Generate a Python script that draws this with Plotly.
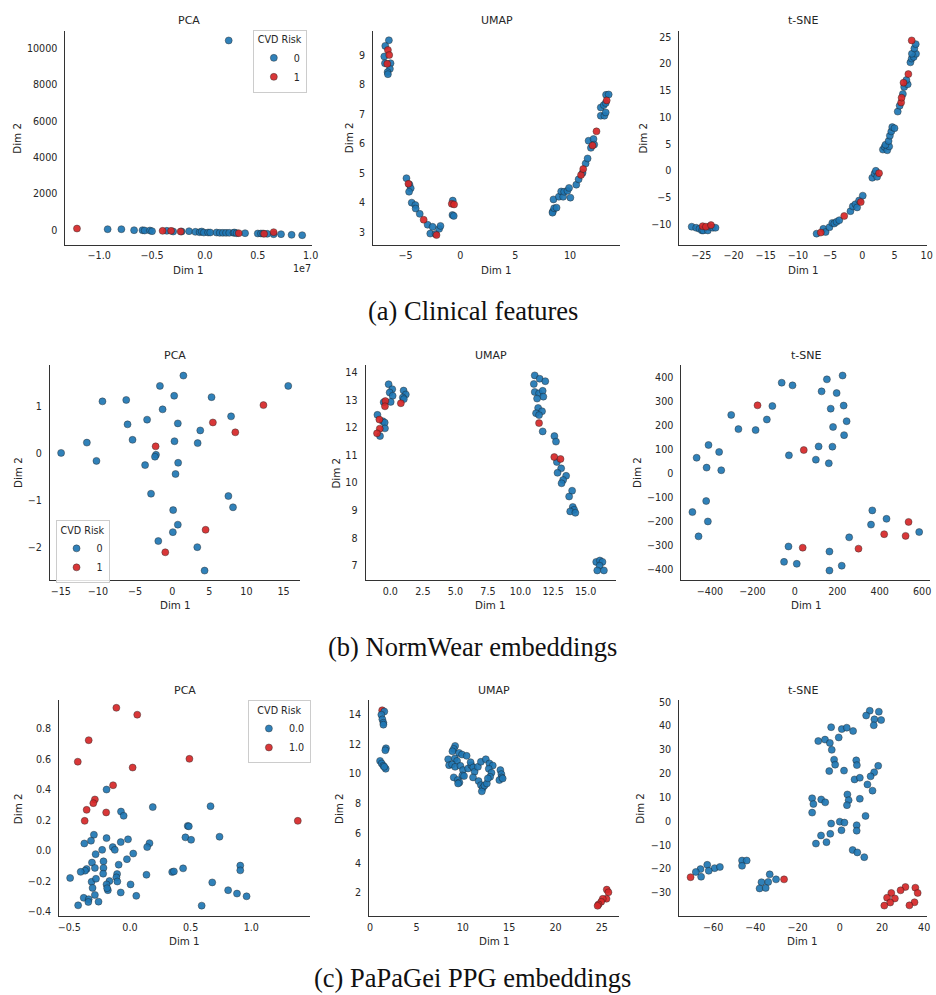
import plotly.graph_objects as go

W, H = 936, 995
BLUE = "#1f77b4"
RED = "#d62728"

# ---------------- (a) Clinical features ----------------
# PCA (Dim 1 in units of 1e7)
clin_pca_x0 = [-0.92, -0.79, -0.67, -0.59, -0.57, -0.52, -0.50, -0.36, -0.30, -0.22, -0.15, -0.09, -0.05, -0.03,
               -0.01, 0.03, 0.05, 0.11, 0.14, 0.17, 0.20, 0.23, 0.27, 0.28, 0.30, 0.38, 0.50, 0.53, 0.55, 0.59,
               0.65, 0.72, 0.82, 0.92, 0.225]
clin_pca_y0 = [55, 55, 0, 0, -18, -18, -55, -36, -73, -73, -55, -91, -109, -73,
               -128, -128, -128, -128, -146, -146, -146, -146, -146, -128, -164, -164, -182, -182, -182, -200,
               -219, -219, -255, -274, 10438]
clin_pca_x1 = [-1.21, -0.40, -0.32, -0.23, 0.32, 0.56, 0.65]
clin_pca_y1 = [91, -36, -36, -73, -164, -200, -110]

clin_umap_x0 = [-6.51, -6.84, -6.93, -6.36, -6.87, -6.42, -6.63, -6.60, -4.91, -4.64, -4.52, -4.67, -4.43, -4.10,
                -4.07, -3.70, -2.98, -2.53, -2.74, -2.26, -1.93, -1.81, -0.69, -0.72, -0.60, 8.43, 8.40, 8.55,
                8.77, 8.49, 8.98, 9.19, 9.37, 9.46, 9.76, 9.91, 10.03, 10.57, 10.78, 11.14, 11.42, 11.60, 11.90,
                11.69, 12.14, 12.20, 12.80, 12.80, 13.13, 13.25, 13.07, 13.25, 13.28, 13.52]
clin_umap_y0 = [9.52, 9.33, 8.97, 8.74, 8.74, 8.55, 8.44, 8.37, 4.84, 4.63, 4.50, 4.38, 4.01, 3.93,
                3.81, 3.63, 3.26, 3.19, 2.96, 2.95, 3.12, 3.22, 4.08, 3.59, 3.56, 3.71, 3.67, 3.82,
                3.84, 4.12, 4.21, 4.39, 4.21, 4.38, 4.41, 4.51, 4.18, 4.62, 4.80, 5.02, 5.34, 5.51, 5.87,
                6.11, 6.17, 5.98, 7.24, 6.96, 6.96, 7.07, 7.32, 7.39, 7.67, 7.68]
clin_umap_x1 = [-6.60, -6.48, -6.66, -4.73, -3.34, -2.17, -0.78, -0.57, 11.0, 11.2, 12.05, 12.41, 13.34]
clin_umap_y1 = [9.19, 9.02, 8.72, 4.65, 3.43, 2.91, 3.97, 3.95, 4.95, 5.15, 5.95, 6.43, 7.48]

clin_tsne_x0 = [-26.5, -25.8, -25.3, -24.9, -24.7, -24.0, -23.8, -23.2, -22.8, -7.1, -6.05, -5.7, -5.1, -4.66,
                -4.35, -4.0, -3.58, -1.84, -1.48, -1.07, -0.81, -0.5, 0.07, 1.55, 1.9, 2.1, 2.3, 3.2, 3.46, 3.87,
                4.17, 3.6, 4.08, 4.28, 4.5, 4.65, 5.0, 5.5, 5.8, 6.3, 6.5, 7.05, 6.85, 7.47, 7.67, 7.98, 8.34,
                7.7, 8.08, 8.3]
clin_tsne_y0 = [-10.4, -10.6, -10.8, -11.1, -11.1, -11.1, -10.4, -10.6, -10.6, -11.7, -10.8, -11.4, -10.5, -9.7,
                -9.8, -9.5, -9.2, -7.5, -6.6, -6.2, -6.8, -5.5, -4.6, -1.26, -0.46, 0.04, -1.08, 4.0, 4.5, 3.88,
                4.6, 4.9, 5.6, 6.6, 7.4, 8.2, 8.0, 11.1, 12.2, 14.4, 15.7, 16.2, 17.0, 20.3, 21.0, 21.3, 21.9,
                21.9, 22.9, 23.7]
clin_tsne_x1 = [-24.8, -24.3, -23.5, -6.45, -2.81, -0.24, 2.6, 6.03, 6.1, 6.4, 7.15, 7.67]
clin_tsne_y1 = [-10.3, -10.4, -10.1, -11.5, -8.4, -5.8, -0.4, 12.8, 13.7, 16.5, 18.1, 24.4]

# ---------------- (b) NormWear embeddings ----------------
nw_pca_x0 = [-14.96, -11.49, -10.2, -9.39, -6.19, -6.01, -5.34, -3.38, -3.65, -1.65, -1.29, -2.18, -2.32, -2.85,
             0.27, 1.51, 0.76, 0.31, 0.8, 0.45, 0.13, 0.76, 0.09, -1.87, 3.38, 4.36, 3.78, 3.43, 5.30, 7.93,
             7.57, 8.19, 15.63]
nw_pca_y0 = [0.02, 0.24, -0.15, 1.12, 1.15, 0.63, 0.30, 0.73, -0.24, 1.45, 0.95, -0.02, -0.06, -0.85,
             1.24, 1.67, 0.65, 0.27, -0.19, -0.43, -1.2, -1.51, -1.67, -1.86, -1.99, -2.49, 0.50, 0.23, 1.21, 0.80,
             -0.90, -1.14, 1.45]
nw_pca_x1 = [-2.23, -0.93, 4.5, 5.48, 8.5, 12.29]
nw_pca_y1 = [0.16, -2.1, -1.62, 0.67, 0.46, 1.04]

nw_umap_x0 = [-0.13, 0.15, -0.05, 0.18, 0.03, 1.02, 1.19, 0.96, 1.04, -0.51, -0.99, -0.58, -0.43, -0.41, -0.79,
              11.09, 11.47, 11.90, 11.02, 11.09, 11.42, 11.70, 11.75, 11.27, 11.35, 11.65, 11.19, 11.42, 11.70,
              12.60, 12.72, 12.79, 13.12, 12.84, 13.50, 13.27, 13.15, 13.96, 13.73, 14.01, 14.11, 13.81, 14.21,
              15.81, 16.09, 16.29, 16.07, 15.89, 16.40]
nw_umap_y0 = [13.58, 13.40, 13.28, 13.16, 12.94, 13.35, 13.21, 13.10, 13.04, 12.93, 12.47, 12.24, 12.19, 11.98, 11.70,
              13.90, 13.78, 13.69, 13.59, 13.30, 13.25, 13.34, 13.13, 13.06, 12.72, 12.60, 12.53, 12.46, 11.87,
              11.70, 11.50, 10.76, 10.53, 10.37, 10.26, 10.11, 9.99, 9.72, 9.51, 9.13, 9.03, 8.97, 8.92,
              7.14, 7.19, 7.14, 7.00, 6.83, 6.83]
nw_umap_x1 = [0.81, -0.38, -0.41, -0.84, -0.81, -1.02, 11.42, 12.59, 13.07]
nw_umap_y1 = [12.89, 12.97, 12.78, 12.30, 11.97, 11.80, 12.17, 10.94, 10.87]

nw_tsne_x0 = [225, 151, -62, -11, 126, 197, -106, 230, 169, -300, -132, 244, -266, -185, 180, 232, -407, 112, 177,
              -357, -463, -28, 99, 160, -416, -347, -418, -483, -410, -454, 365, 432, 359, 586, 256, -30, 163,
              -51, 9, 221, 163]
nw_tsne_y0 = [408, 392, 378, 367, 342, 335, 281, 283, 270, 244, 225, 218, 185, 181, 194, 160, 119, 113, 112,
              90, 66, 76, 58, 43, 25, 14, -114, -160, -199, -261, -153, -188, -212, -243, -265, -303, -324,
              -367, -375, -383, -403]
nw_tsne_x1 = [-176, 42, 536, 421, 522, 37, 300]
nw_tsne_y1 = [284, 98, -201, -252, -259, -308, -312]

# ---------------- (c) PaPaGei PPG embeddings ----------------
pg_pca_x0 = [-0.193, 0.188, 0.664, -0.074, -0.052, 0.476, 0.485, -0.297, -0.321, -0.376, -0.193, -0.076, -0.016,
             0.457, 0.504, 0.738, 0.161, 0.142, -0.229, -0.142, -0.125, -0.283, 0.027, -0.025, -0.218, -0.313,
             -0.093, -0.289, -0.218, -0.357, -0.370, -0.406, -0.493, -0.106, -0.221, 0.136, 0.348, 0.362, 0.438,
             0.909, 0.909, -0.112, -0.169, -0.104, -0.316, -0.280, -0.193, 0.005, 0.678, -0.308, -0.182, -0.188,
             -0.076, 0.809, 0.882, 0.961, -0.289, 0.052, -0.381, -0.340, -0.343, -0.259, -0.427, 0.591]
pg_pca_y0 = [0.402, 0.287, 0.293, 0.258, 0.230, 0.164, 0.161, 0.106, 0.067, 0.049, 0.084, 0.058, 0.076,
             0.089, 0.073, 0.093, 0.051, 0.025, 0.007, 0.025, 0.007, -0.021, -0.017, -0.054, -0.068, -0.076,
             -0.090, -0.111, -0.111, -0.118, -0.129, -0.137, -0.177, -0.151, -0.149, -0.156, -0.138, -0.134, -0.114,
             -0.096, -0.127, -0.173, -0.197, -0.200, -0.202, -0.182, -0.219, -0.219, -0.206, -0.242, -0.257, -0.244,
             -0.272, -0.257, -0.279, -0.297, -0.288, -0.294, -0.307, -0.316, -0.334, -0.332, -0.356, -0.358]
pg_pca_x1 = [-0.112, 0.060, -0.340, -0.430, 0.490, 0.022, -0.139, -0.289, -0.302, -0.357, -0.196, -0.373, 1.383]
pg_pca_y1 = [0.937, 0.892, 0.725, 0.584, 0.603, 0.546, 0.430, 0.337, 0.313, 0.269, 0.252, 0.197, 0.197]

pg_umap_x0 = [1.53, 1.21, 1.32, 1.43, 1.43, 1.71, 1.64, 1.07, 1.25, 1.43, 1.68, 1.53,
              9.17, 9.02, 8.88, 9.59, 9.91, 10.41, 8.42, 9.13, 9.38, 8.52, 8.84, 9.17, 9.74, 10.02, 9.95, 9.02,
              9.45, 9.63, 9.49, 10.13, 10.56, 10.91, 10.84, 11.12, 11.27, 11.10, 11.63, 11.95, 11.70, 11.95,
              12.16, 12.05, 12.34, 12.59, 12.48, 12.87, 13.23, 12.80, 13.09, 12.95, 12.70, 14.05, 14.16, 14.19,
              13.94, 14.30]
pg_umap_y0 = [14.22, 14.00, 13.69, 13.46, 13.33, 11.74, 11.61, 10.89, 10.72, 10.56, 10.36, 10.49,
              11.90, 11.70, 11.54, 11.43, 11.32, 11.23, 11.00, 11.05, 10.89, 10.60, 10.65, 10.49, 10.56, 10.27,
              9.91, 9.78, 9.60, 9.44, 9.37, 9.87, 10.38, 10.60, 10.80, 10.45, 10.16, 9.78, 10.49, 10.83, 9.53,
              9.26, 9.08, 8.84, 9.23, 9.37, 11.00, 10.72, 10.58, 10.36, 10.09, 9.82, 9.71, 10.27, 10.00, 9.78,
              9.60, 9.71]
pg_umap_x1 = [1.30, 25.53, 25.71, 25.50, 25.10, 24.93, 24.64, 24.54]
pg_umap_y1 = [14.30, 2.22, 2.04, 1.60, 1.60, 1.40, 1.22, 1.13]

pg_tsne_x0 = [14.2, 18.5, 12.5, 16.4, 19.6, 16.1, -4.1, 0.94, 3.3, 6.3, -10.2, -7.0, -4.7, -0.5, -3.8, -2.7, -2.2,
              -5.0, 2.0, 7.8, 8.1, 18.2, 16.3, 14.6, 7.0, 9.5, 13.1, 15.5, -13.1, -8.8, -6.9, -12.5, 3.6, 4.2,
              9.5, 3.4, -13.1, 12.2, 0.0, 2.2, -4.1, 8.0, 0.8, 8.0, -4.5, -8.9, -11.3, -6.3, 6.1, 8.3, 11.6,
              -62.8, -59.3, -56.8, -62.1, -66.0, -68.2, -65.7, -46.3, -44.1, -46.3, -33.2, -37.1, -33.9, -30.2,
              -38.0, -35.1]
pg_tsne_y0 = [46.4, 46.0, 44.4, 42.8, 42.5, 40.3, 39.5, 38.7, 39.3, 37.9, 33.7, 34.3, 32.9, 35.2, 30.0, 25.9, 23.8,
              21.1, 21.3, 25.6, 23.6, 23.3, 20.6, 18.9, 17.6, 18.3, 15.5, 12.9, 9.7, 9.2, 8.0, 7.3, 11.3, 8.9,
              9.5, 6.8, 3.7, 2.3, -0.1, -0.5, -0.9, -1.6, -3.7, -3.9, -5.2, -5.9, -9.3, -8.7, -12.0, -13.0, -15.0,
              -18.2, -19.6, -19.1, -20.7, -20.0, -21.2, -23.2, -16.4, -16.4, -18.6, -22.2, -25.5, -25.4, -24.3,
              -28.1, -27.9]
pg_tsne_x1 = [-70.7, -26.4, 31.1, 35.8, 28.8, 36.9, 24.4, 22.4, 26.1, 23.9, 35.4, 21.1, 33.0]
pg_tsne_y1 = [-23.4, -24.3, -27.5, -27.8, -28.9, -30.0, -30.0, -32.0, -32.3, -34.0, -33.9, -35.3, -35.2]

# ---------------- layout of panels (pixel boxes: left, right, top, bottom) ----------------
panels = [
    ("", "PCA", (64, 313, 27, 242), [-1.319, 1.016], [-803, 10967], 0.5, 2000, ".1f", "d",
     (clin_pca_x0, clin_pca_y0, clin_pca_x1, clin_pca_y1), "legend", ("0", "1"), 49, False),
    ("2", "UMAP", (374.3, 623.3, 27, 242), [-7.95, 14.55], [2.58, 9.84], 5, 1, "d", "d",
     (clin_umap_x0, clin_umap_y0, clin_umap_x1, clin_umap_y1), None, None, 24, False),
    ("3", "t-SNE", (683.3, 933, 27, 242), [-28.4, 10.05], [-13.78, 26.18], 5, 5, "d", "d",
     (clin_tsne_x0, clin_tsne_y0, clin_tsne_x1, clin_tsne_y1), None, None, 37, False),
    ("4", "PCA", (48.3, 300.7, 363.3, 579), [-16.47, 17.23], [-2.693, 1.886], 5, 1, "d", "d",
     (nw_pca_x0, nw_pca_y0, nw_pca_x1, nw_pca_y1), "legend2", ("0", "1"), 32, False),
    ("5", "UMAP", (366.7, 619.3, 363.3, 579), [-1.9, 17.33], [6.48, 14.26], 2.5, 1, ".1f", "d",
     (nw_umap_x0, nw_umap_y0, nw_umap_x1, nw_umap_y1), None, None, 30, False),
    ("6", "t-SNE", (685.3, 936.7, 363.3, 579), [-534.6, 637], [-442.8, 449.7], 200, 100, "d", "d",
     (nw_tsne_x0, nw_tsne_y0, nw_tsne_x1, nw_tsne_y1), None, None, 44.7, False),
    ("7", "PCA", (57.7, 310.7, 700, 916.7), [-0.583, 1.484], [-0.4265, 0.985], 0.5, 0.2, ".1f", ".1f",
     (pg_pca_x0, pg_pca_y0, pg_pca_x1, pg_pca_y1), "legend3", ("0.0", "1.0"), 41.7, False),
    ("8", "UMAP", (370.3, 622.7, 700, 916.7), [-0.107, 26.89], [0.436, 14.96], 5, 2, "d", "d",
     (pg_umap_x0, pg_umap_y0, pg_umap_x1, pg_umap_y1), None, None, 29.7, True),
    ("9", "t-SNE", (683, 932.5, 700, 916.7), [-76.1, 41.1], [-39.7, 50.7], 20, 10, "d", "d",
     (pg_tsne_x0, pg_tsne_y0, pg_tsne_x1, pg_tsne_y1), None, None, 39, False),
]

TXT = "#262626"
FONT = "DejaVu Sans"
fig = go.Figure()
annotations = []
layout_axes = {}


def px_x(p):
    return p / W


def px_y(p):
    return 1 - p / H


marker_line = dict(color="rgba(30,30,30,0.75)", width=0.6)

for (aid, title, box, xr, yr, xdt, ydt, xfmt, yfmt, data, leg, labels, ytoff, red_first) in panels:
    l, r, t, b = box
    x0, y0, x1, y1 = data
    xa = "x" + aid
    ya = "y" + aid
    blue_tr = go.Scatter(x=x0, y=y0, mode="markers", xaxis=xa, yaxis=ya,
                         marker=dict(color=BLUE, size=7, opacity=0.92, line=marker_line),
                         name=labels[0] if labels else "0", showlegend=leg is not None,
                         legend=leg if leg else "legend")
    red_tr = go.Scatter(x=x1, y=y1, mode="markers", xaxis=xa, yaxis=ya,
                        marker=dict(color=RED, size=7, opacity=0.92, line=marker_line),
                        name=labels[1] if labels else "1", showlegend=leg is not None,
                        legend=leg if leg else "legend")
    if red_first:
        fig.add_trace(red_tr)
        fig.add_trace(blue_tr)
    else:
        fig.add_trace(blue_tr)
        fig.add_trace(red_tr)

    common = dict(showgrid=False, zeroline=False, showline=True, linecolor="#333333", linewidth=1.25,
                  ticks="", tickfont=dict(family=FONT, size=9.6, color=TXT), fixedrange=True,
                  ticklabeloverflow="allow")
    layout_axes["xaxis" + aid] = dict(common, domain=[px_x(l), min(1.0, px_x(r))], range=xr, anchor=ya,
                                      tickmode="linear", tick0=0, dtick=xdt, tickformat=xfmt,
                                      ticklabelstandoff=2)
    layout_axes["yaxis" + aid] = dict(common, domain=[px_y(b), px_y(t)], range=yr, anchor=xa,
                                      tickmode="linear", tick0=0, dtick=ydt, tickformat=yfmt,
                                      ticklabelstandoff=5)
    cx = (l + r) / 2
    annotations.append(dict(text=title, x=px_x(cx), y=px_y(t - 10), xref="paper", yref="paper",
                            showarrow=False, yanchor="middle", xanchor="center",
                            font=dict(family=FONT, size=11, color=TXT)))
    annotations.append(dict(text="Dim 1", x=px_x(cx), y=px_y(b + 25), xref="paper", yref="paper",
                            showarrow=False, yanchor="middle", xanchor="center",
                            font=dict(family=FONT, size=10.3, color=TXT)))
    annotations.append(dict(text="Dim 2", x=px_x(l - ytoff), y=px_y((t + b) / 2), xref="paper", yref="paper",
                            showarrow=False, textangle=-90, xanchor="center", yanchor="middle",
                            font=dict(family=FONT, size=10.3, color=TXT)))

# offset text for clinical PCA
annotations.append(dict(text="1e7", x=px_x(303), y=px_y(266), xref="paper", yref="paper", showarrow=False,
                        xanchor="center", yanchor="middle", font=dict(family=FONT, size=9.6, color=TXT)))

# captions
captions = ["(a) Clinical features", "(b) NormWear embeddings", "(c) PaPaGei PPG embeddings"]
caption_y = [309, 646, 979]
for cap, cy in zip(captions, caption_y):
    annotations.append(dict(text=cap, x=px_x(475), y=px_y(cy), xref="paper", yref="paper", showarrow=False,
                            xanchor="center", yanchor="middle",
                            font=dict(family="Liberation Serif", size=26.5, color="#111111")))


def legend_box(lx, ty):
    return dict(x=px_x(lx), y=px_y(ty), xanchor="left", yanchor="top", bgcolor="rgba(255,255,255,0.85)",
                bordercolor="#cccccc", borderwidth=1, font=dict(family=FONT, size=9.6, color=TXT),
                title=dict(text="CVD Risk", side="top center", font=dict(family=FONT, size=9.6, color=TXT)),
                itemwidth=30, tracegroupgap=0)


fig.update_layout(
    width=W, height=H, margin=dict(l=0, r=0, t=0, b=0),
    plot_bgcolor="white", paper_bgcolor="white",
    annotations=annotations,
    legend=legend_box(253, 26),
    legend2=legend_box(54, 519),
    legend3=legend_box(248, 700),
    **layout_axes,
)

fig.write_html("out.html", config={"displayModeBar": False},
               post_script="document.body.style.margin='0';")
